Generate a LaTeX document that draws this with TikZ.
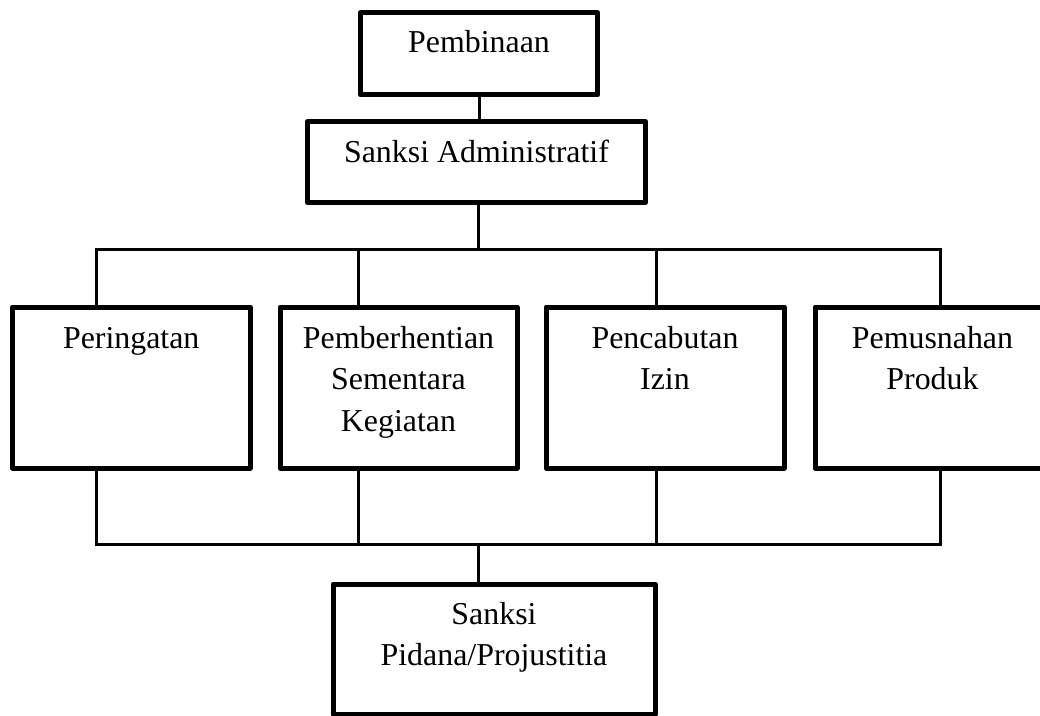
\documentclass[tikz,border=0pt]{standalone}
\usepackage{fontspec}
\setmainfont{Liberation Serif}
\begin{document}
\begin{tikzpicture}[x=1bp,y=-1bp,
  box/.style={draw, rectangle, line width=5bp, line join=round, inner sep=0pt, outer sep=0pt},
  lbl/.style={font=\fontsize{32}{41.7}\selectfont, align=center, anchor=base, inner sep=0pt},
  link/.style={line width=3bp}]
\useasboundingbox (0,0) rectangle (1040,716);
\clip (0,0) rectangle (1040,716);

% boxes
\node[box, minimum width=237bp, minimum height=82.5bp] (pb) at (479,53.75) {};
\node[box, minimum width=338bp, minimum height=81bp] (sa) at (476.5,162) {};
\node[box, minimum width=237.5bp, minimum height=161bp] (per) at (131.25,387.5) {};
\node[box, minimum width=237bp, minimum height=161bp] (pem) at (398.5,387.5) {};
\node[box, minimum width=238bp, minimum height=161bp] (pen) at (665,387.5) {};
\node[box, minimum width=235bp, minimum height=161bp] (pmu) at (932.5,387.5) {};
\node[box, minimum width=322bp, minimum height=130bp] (pid) at (494,649) {};

% labels: the base anchor sits on the last line, so the shift counts all lines
\node[lbl] (pbt) at ([yshift=-40.5bp]pb.north) {Pembinaan};
\node[lbl] (sat) at ([yshift=-41bp]sa.north) {Sanksi Administratif};
\node[lbl] (pert) at ([yshift=-41bp]per.north) {Peringatan};
\node[lbl] (pemt) at ([yshift=-124.4bp]pem.north) {Pemberhentian\\Sementara\\Kegiatan};
\node[lbl] (pent) at ([yshift=-82.7bp]pen.north) {Pencabutan\\Izin};
\node[lbl] (pmut) at ([yshift=-82.7bp]pmu.north) {Pemusnahan\\Produk};
\node[lbl] (pidt) at ([yshift=-81.7bp]pid.north) {Sanksi\\Pidana/Projustitia};

% junction points of the two buses
\coordinate (bt) at (478,249);
\coordinate (tl) at (96,249);
\coordinate (t2) at (358.5,249);
\coordinate (t3) at (656,249);
\coordinate (tr) at (940,249);
\coordinate (bb) at (478,544);
\coordinate (bl) at (96,544);
\coordinate (b2) at (358.5,544);
\coordinate (b3) at (656,544);
\coordinate (br) at (940,544);

% connectors
\draw[link] (pb.south) -- (pb.south|-sa.north);
\draw[link] (bt|-sa.south) -- (bt);
\draw[link] (tl|-per.north) -- (tl) -- (tr) -- (tr|-pmu.north);
\draw[link] (t2) -- (t2|-pem.north);
\draw[link] (t3) -- (t3|-pen.north);
\draw[link] (bl|-per.south) -- (bl) -- (br) -- (br|-pmu.south);
\draw[link] (b2|-pem.south) -- (b2);
\draw[link] (b3|-pen.south) -- (b3);
\draw[link] (bb) -- (bb|-pid.north);
\end{tikzpicture}
\end{document}
